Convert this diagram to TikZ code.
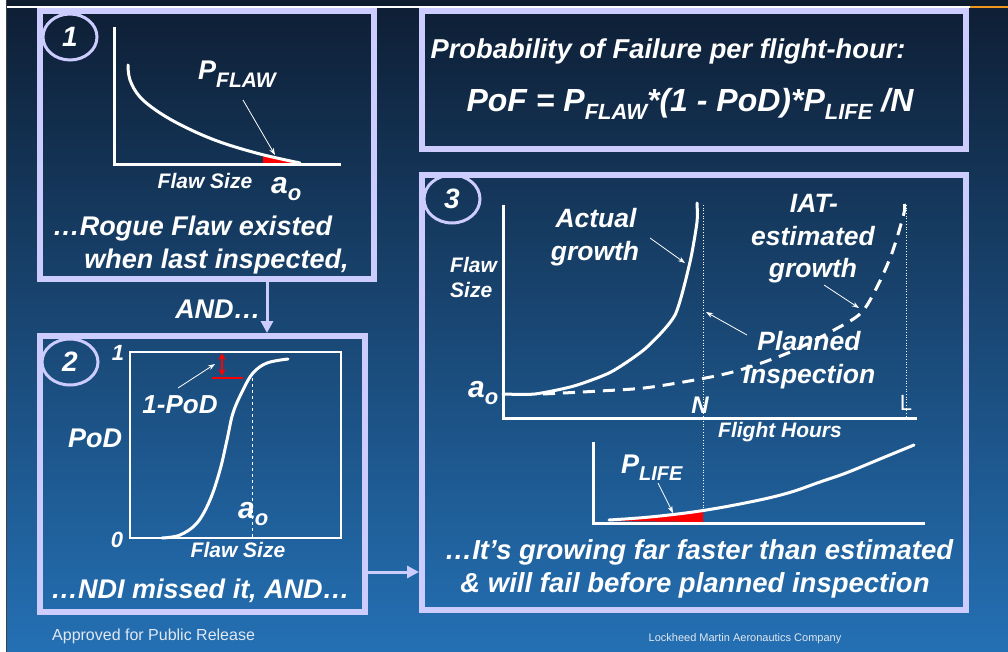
\documentclass[tikz,border=0pt]{standalone}
\usepackage{fontspec}
\setmainfont{Liberation Sans}
\usetikzlibrary{arrows.meta,shapes.geometric}
\definecolor{lav}{RGB}{204,204,255}
\definecolor{bgtop}{RGB}{14,30,52}
\definecolor{bgmid}{RGB}{29,82,134}
\definecolor{bgbot}{RGB}{36,112,180}
\definecolor{band}{RGB}{14,28,48}
\definecolor{orangeline}{RGB}{240,150,30}
\definecolor{foot}{RGB}{225,232,242}
\newcommand\fsz[1]{\fontsize{#1}{#1}\selectfont}
\newcommand\lsub[3]{\raisebox{-#1pt}{\fsz{#2}#3}}
\begin{document}
\begin{tikzpicture}[x=1pt,y=-1pt,
  lbl/.style={text=white, font=\bfseries\itshape, inner sep=0pt, anchor=base},
  panel/.style={draw=lav, line width=6pt, inner sep=0pt},
  numc/.style={ellipse, draw=lav, line width=3pt, inner sep=0pt, text=white, font=\bfseries\itshape\fsz{28}},
  axis/.style={white, line width=3pt},
  crv/.style={white, line width=3pt, line cap=round, line join=round},
  ptr/.style={white, line width=0.8pt, -{Stealth[length=7pt,width=5pt]}},
  conn/.style={lav, line width=3pt, -{Triangle[length=12pt,width=12pt]}},
  dots/.style={white, line width=0.7pt, dotted}
]
\useasboundingbox (0,0) rectangle (1008,652);
% background
\shade[top color=bgtop, middle color=bgmid, bottom color=bgbot] (0,0) rectangle (1008,652);
\fill[band] (6,0) rectangle (1008,6);
\fill[white] (6,6) rectangle (970,8.5);
\fill[orangeline] (970,6) rectangle (1008,8.5);
\fill[white] (0,0) rectangle (6,652);
\draw[gray!50!black, line width=1pt] (6.5,0) -- (6.5,652);

% panels
\node[panel, minimum width=334pt, minimum height=268pt] (b1) at (207,145) {};
\node[panel, minimum width=325pt, minimum height=276pt] (b2) at (202.5,474) {};
\node[panel, minimum width=544pt, minimum height=435pt] (b3) at (694,392.5) {};
\node[panel, minimum width=544pt, minimum height=138pt] (b0) at (694,80) {};

% number circles
\node[numc, minimum width=54pt, minimum height=46pt] (n1) at (70,37) {1};
\node[numc, minimum width=56pt, minimum height=46pt] (n2) at (70,362) {2};
\node[numc, minimum width=56pt, minimum height=48pt] (n3) at (452,199) {3};

% connectors
\coordinate (c12) at (267,0);
\draw[conn] (b1.south -| c12) -- (b2.north -| c12);
\coordinate (c23) at (0,572);
\draw[conn] (b2.east |- c23) -- (b3.west |- c23);
\node[lbl, font=\bfseries\itshape\fsz{27}] (and1) at (218,318) {AND…};

% ---------- panel 1 ----------
\fill[red] (263,155) -- (263,165) -- (303,165) -- (300,163) -- (280,159.5) -- cycle;
\draw[axis] (114,27) -- (114,165) -- (341,165);
\draw[crv] plot[smooth, tension=0.6] coordinates {(128,65) (130,80) (140,97) (160,113) (187,128) (220,142) (260,154) (300,163)};
\node[lbl, anchor=base west, font=\bfseries\itshape\fsz{27}] (pflaw) at (198,80) {P\lsub{8}{21}{FLAW}};
\draw[ptr] (243,100) -- (275,155);
\node[lbl, font=\bfseries\itshape\fsz{21}] (fs1) at (205,189) {Flaw Size};
\node[lbl, anchor=base west, font=\bfseries\itshape\fsz{30}] (a1) at (271,194) {a\lsub{6}{22}{o}};
\node[lbl, font=\bfseries\itshape\fsz{27}] (t1a) at (192.5,236) {…Rogue Flaw existed};
\node[lbl, font=\bfseries\itshape\fsz{27}] (t1b) at (216.5,268) {when last inspected,};

% ---------- panel 2 ----------
\draw[white, line width=2pt] (130,352) rectangle (341,538);
\draw[white, line width=1pt, dash pattern=on 3pt off 3pt] (252,378) -- (252,538);
\draw[crv] plot[smooth, tension=0.6] coordinates {(162,538) (180,535) (197,523) (210,500) (220,470) (227,440) (233,413) (243,390) (253,373) (267,363) (288,359)};
\draw[red, line width=2pt] (212,378) -- (243,378);
\draw[red, line width=1.5pt, {Stealth[length=7pt,width=7pt]}-{Stealth[length=7pt,width=7pt]}] (222,353) -- (222,376);
\draw[ptr] (178,388) -- (215,364);
\node[lbl, font=\bfseries\itshape\fsz{22}] (one) at (118,360) {1};
\node[lbl, font=\bfseries\itshape\fsz{22}] (zero) at (117,547) {0};
\node[lbl, font=\bfseries\itshape\fsz{27}] (pod) at (95,447) {PoD};
\node[lbl, font=\bfseries\itshape\fsz{26}] (onepod) at (180,413) {1-PoD};
\node[lbl, anchor=base west, font=\bfseries\itshape\fsz{30}] (a2) at (238,518) {a\lsub{7}{22}{o}};
\node[lbl, font=\bfseries\itshape\fsz{21}] (fs2) at (238,557) {Flaw Size};
\node[lbl, font=\bfseries\itshape\fsz{27}] (t2) at (200.5,598) {…NDI missed it, AND…};

% ---------- top panel ----------
\node[lbl, font=\bfseries\itshape\fsz{27.3}] (pof1) at (668,59) {Probability of Failure per flight-hour:};
\node[lbl, font=\bfseries\itshape\fsz{32}] (pof2) at (690,112) {PoF = P\lsub{8}{22}{FLAW}*(1 - PoD)*P\lsub{8}{22}{LIFE} /N};

% ---------- panel 3 ----------
\draw[dots] (703,205) -- (703,510);
\draw[dots] (906,205) -- (906,418);
\draw[axis] (503,205) -- (503,418) -- (917,418);
\draw[crv] plot[smooth, tension=0.4] coordinates {(503,394) (535,394) (574,386) (611,372) (646,348) (675,315) (690,262) (697,222) (697,203)};
\draw[white, line width=3pt, dash pattern=on 12pt off 8pt] plot[smooth, tension=0.5] coordinates {(543,394) (600,391) (652,387) (729,373) (788,353) (834,330) (861,313) (877,287) (892,253) (904,213) (904,203)};
\node[lbl, anchor=base west, font=\bfseries\itshape\fsz{21}] (fl3) at (450,272) {Flaw};
\node[lbl, anchor=base west, font=\bfseries\itshape\fsz{21}] (sz3) at (450,297) {Size};
\node[lbl, anchor=base west, font=\bfseries\itshape\fsz{30}] (a3) at (468,397) {a\lsub{7}{22}{o}};
\node[lbl, font=\bfseries\itshape\fsz{26.5}] (act1) at (596,228) {Actual};
\node[lbl, font=\bfseries\itshape\fsz{26.5}] (act2) at (595,260) {growth};
\draw[ptr] (650,238) -- (685,263);
\node[lbl, font=\bfseries\itshape\fsz{26.5}] (iat1) at (814,213) {IAT-};
\node[lbl, font=\bfseries\itshape\fsz{26.5}] (iat2) at (813,245) {estimated};
\node[lbl, font=\bfseries\itshape\fsz{26.5}] (iat3) at (813,277) {growth};
\draw[ptr] (824,285) -- (859,308);
\node[lbl, font=\bfseries\itshape\fsz{26.5}] (pl1) at (809,350) {Planned};
\node[lbl, font=\bfseries\itshape\fsz{26.5}] (pl2) at (809,383) {Inspection};
\draw[ptr] (747,335) -- (706,312);
\node[lbl, font=\bfseries\itshape\fsz{24}] (nn) at (700,413) {N};
\node[lbl, font=\fsz{22}] (ll) at (906,410) {L};
\node[lbl, font=\bfseries\itshape\fsz{21}] (fh) at (780,437) {Flight Hours};
% lower graph
\fill[red] (612,521) -- (650,517.5) -- (703,511) -- (703,522) -- cycle;
\draw[axis] (593,442) -- (593,523) -- (925,523);
\draw[crv] plot[smooth, tension=0.6] coordinates {(609,520) (650,517) (700,511) (750,502) (788,493) (820,482) (846,473) (880,459) (914,445)};
\node[lbl, anchor=base west, font=\bfseries\itshape\fsz{27}] (plife) at (621,473) {P\lsub{7}{20}{LIFE}};
\draw[ptr] (658,483) -- (673,513);
\node[lbl, font=\bfseries\itshape\fsz{27.5}] (t3a) at (699,559) {…It’s growing far faster than estimated};
\node[lbl, font=\bfseries\itshape\fsz{27.5}] (t3b) at (695,592) {\& will fail before planned inspection};

% footer
\node[anchor=base west, inner sep=0pt, text=foot, font=\fsz{16}] (ft1) at (52,640) {Approved for Public Release};
\node[anchor=base, inner sep=0pt, text=foot, font=\fsz{11}] (ft2) at (745,641) {Lockheed Martin Aeronautics Company};
\end{tikzpicture}
\end{document}
